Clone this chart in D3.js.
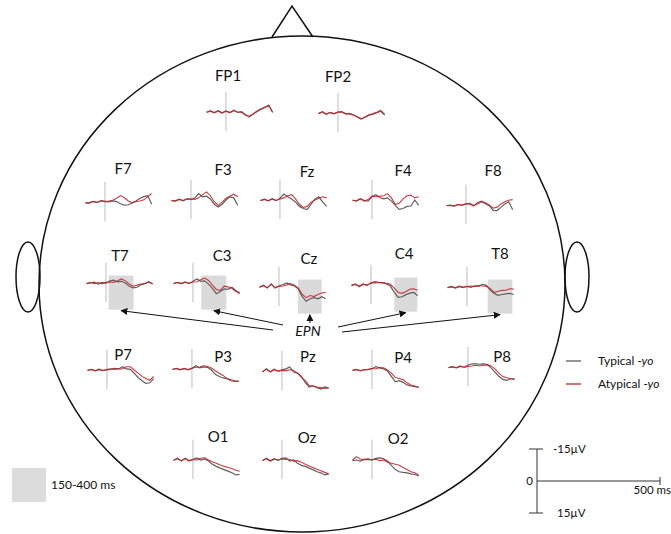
<!DOCTYPE html>
<html lang="en">
<head>
  <meta charset="UTF-8">
  <title>EPN topography</title>
  <style>
    html,
    body {
      margin: 0;
      padding: 0;
      background: #fff;
    }

    svg {
      display: block;
    }

    text {
      font-family: Lato, "Open Sans", sans-serif;
      fill: #111;
    }

    .head {
      fill: none;
      stroke: #111;
      stroke-width: 1.5;
    }
  </style>
</head>
<body>
  <svg class="chart"></svg>

  <script src="https://cdnjs.cloudflare.com/ajax/libs/d3/7.8.5/d3.min.js"></script>
  <script>
    /* data */
    const electrodes = ['FP1', 'FP2', 'F7', 'F3', 'Fz', 'F4', 'F8', 'T7', 'C3', 'Cz', 'C4', 'T8',
      'P7', 'P3', 'Pz', 'P4', 'P8', 'O1', 'Oz', 'O2'];
    const timesMs = [-200, -160, -120, -80, -40, 0, 40, 80, 120, 160, 200, 240, 280, 320, 360, 400, 440, 480];

    // µV, one row per electrode (same order as electrodes)
    const typicalYo = [
      [0, -0.5, 0.3, -0.6, 0.4, -0.5, 0.2, -0.8, 0.2, -0.2, 1.2, 2.4, 1.0, -0.2, -1.2, -2.0, -3.2, 0.2],
      [0.3, -0.5, 0.5, -0.3, 0.3, -0.4, -0.6, 0.4, 0.2, 0.8, 1.8, 2.7, 2.0, 1.0, 0.5, -0.2, -0.8, 1.0],
      [0.5, 0.3, -0.3, 0.2, -0.5, -0.3, 0.0, -0.5, -0.2, 0.8, 1.5, 1.3, 0.5, -0.5, -1.8, -2.5, -3.0, 1.0],
      [0.2, 0.5, -0.3, 0.4, -0.5, -0.2, -1.0, -3.0, -1.5, -1.8, -0.5, 2.0, 3.3, 2.0, 0.0, -1.5, -1.0, 2.5],
      [0.3, -0.3, 0.4, -0.5, 0.3, -0.8, -2.8, -1.5, -0.5, 1.0, 3.0, 4.0, 4.5, 2.0, -0.5, -1.5, 1.0, 3.0],
      [0.0, 0.5, -0.5, 0.2, 0.5, -1.5, -2.5, -1.2, -0.5, -1.0, 0.5, 2.5, 4.4, 4.0, 3.0, 2.8, 0.0, 2.5],
      [0.3, 0.0, 0.5, -0.3, 0.2, -0.5, -0.8, 0.2, -0.5, -1.5, -0.6, 0.3, 2.5, 2.6, 1.0, -0.5, -1.5, 2.2],
      [0.3, 0.0, -0.4, 0.5, -0.3, 0.2, -1.0, -1.3, -0.5, -0.8, 0.0, 1.5, 2.3, 2.0, 0.8, 0.3, -0.5, 0.5],
      [0.3, -0.3, 0.2, -0.5, 0.3, -0.8, -1.9, -0.8, -1.0, 0.5, 2.5, 5.0, 4.0, 2.8, 3.0, 2.0, 3.5, 5.0],
      [0.0, -0.8, 0.5, -1.5, 0.3, -0.5, -1.2, -1.9, -1.0, -0.5, 1.0, 4.5, 6.7, 5.5, 5.0, 5.5, 4.5, 5.5],
      [0.2, -0.5, 0.8, -0.3, 0.2, -1.0, -1.6, -1.2, -1.0, -0.5, 0.5, 3.5, 5.8, 5.5, 4.5, 3.8, 3.5, 5.0],
      [0.3, -0.3, 0.5, -0.2, 0.3, -0.3, 0.2, -0.5, -0.3, -1.2, -0.8, 1.5, 3.0, 3.9, 3.5, 3.2, 3.0, 3.5],
      [0.2, -0.3, 0.4, -0.2, 0.3, 0.0, -0.3, -0.8, -0.5, -1.5, -0.5, -0.3, 1.5, 3.5, 5.0, 6.3, 6.0, 4.0],
      [0.2, -0.3, 0.3, -0.2, 0.4, -0.2, -1.5, -0.5, -1.0, -0.8, 0.5, 2.5, 3.5, 4.2, 4.5, 5.5, 5.8, 5.8],
      [0.5, -1.0, 0.3, -0.8, 0.2, -0.5, -1.0, -1.9, 0.5, 1.0, 2.5, 5.5, 7.5, 7.0, 7.8, 8.5, 7.5, 8.0],
      [0.2, -0.2, 0.3, 0.0, -0.3, -0.5, -1.6, -1.0, -0.5, 0.5, 3.0, 5.5, 5.0, 5.8, 7.0, 7.5, 7.8, 8.0],
      [0.3, -0.2, 0.4, -0.3, 0.0, -0.8, -1.5, -1.5, -1.3, -1.5, -1.2, 0.5, 2.5, 4.5, 5.8, 6.3, 5.5, 5.5],
      [0.2, -0.8, 0.5, -0.8, 0.3, -0.3, -1.0, 0.0, -0.5, 0.5, 2.0, 3.0, 3.8, 4.5, 5.2, 6.0, 7.0, 6.8],
      [0.3, -0.8, 0.4, -0.6, 0.2, -0.8, -1.0, 0.5, 0.0, 1.5, 2.5, 3.0, 3.8, 4.5, 5.5, 6.0, 7.0, 6.5],
      [0.3, 0.0, 0.5, -0.3, -0.5, 0.0, -0.8, -1.0, -0.5, 0.5, 2.5, 4.5, 5.5, 5.8, 6.0, 6.5, 6.8, 7.5]
    ];
    const atypicalYo = [
      [0.2, -0.4, 0.4, -0.5, 0.5, -0.3, 0.4, -0.6, 0.0, 0.2, 1.5, 2.0, 0.8, -0.5, -1.5, -2.3, -3.0, 0.0],
      [0.2, -0.6, 0.6, -0.2, 0.4, -0.5, -0.4, 0.5, 0.4, 1.0, 2.0, 2.9, 1.8, 0.8, 0.3, -0.3, -1.2, 0.6],
      [0.3, 0.5, -0.2, 0.3, -0.7, -0.2, -0.4, -0.8, -1.8, -3.0, -2.0, -0.5, 0.3, -0.2, -0.5, -1.0, -2.5, -4.0],
      [0.3, 0.4, -0.4, 0.2, -0.6, -0.5, -0.3, -1.0, -2.5, -3.8, -2.0, 0.8, 2.5, 1.0, -0.8, -1.8, -2.7, -1.5],
      [0.2, -0.4, 0.3, -0.6, 0.2, -0.5, -1.0, -2.0, -2.5, -0.5, 2.0, 3.5, 3.0, 1.0, 0.0, -0.8, -1.5, -1.0],
      [0.2, 0.3, -0.6, 0.5, -0.2, -1.8, -1.5, -1.8, -2.0, -3.0, -1.0, 2.0, 1.5, -0.5, -2.0, -2.3, -1.0, -1.5],
      [0.2, 0.3, 0.4, -0.2, 0.0, -0.6, -0.4, 0.5, -1.2, -1.8, -1.0, 0.0, 1.5, 1.0, -0.5, -1.5, -2.2, -2.5],
      [0.2, -0.3, 0.3, -0.2, 0.4, -0.3, -0.5, -0.3, -1.0, -1.9, -1.0, 0.5, 1.5, 1.0, 0.5, 0.2, -0.5, 0.3],
      [0.2, -0.2, 0.4, -0.3, 0.1, -0.5, -0.6, -1.5, -2.3, -1.2, 1.0, 3.0, 3.5, 1.5, 1.8, 2.5, 4.0, 4.4],
      [0.2, -0.6, 0.3, -1.2, 0.5, -0.3, -0.5, -1.0, -1.6, -0.8, 0.5, 3.5, 5.0, 4.0, 4.5, 3.5, 2.8, 2.5],
      [0.3, -0.2, 0.5, -0.5, 0.0, -0.8, -1.0, -1.2, -1.1, -0.8, -0.3, 1.5, 3.5, 3.9, 3.0, 2.0, 1.8, 2.5],
      [0.2, 0.0, 0.3, -0.4, 0.0, -0.2, -0.5, -0.2, -0.8, -0.5, -0.3, 0.8, 2.5, 2.0, 1.6, 1.5, 0.8, 1.0],
      [0.1, -0.2, 0.3, -0.4, 0.2, -0.3, -0.6, -0.3, -0.6, -0.5, -1.5, -1.5, 0.0, 1.5, 3.0, 4.0, 4.8, 3.0],
      [0.1, -0.2, 0.4, -0.3, 0.2, -0.4, -0.8, -0.9, -1.5, -1.2, -0.5, 0.8, 2.0, 3.0, 4.5, 5.0, 5.5, 5.8],
      [0.3, -0.8, 0.5, -0.6, 0.0, -0.3, -0.2, -0.6, -0.2, 1.0, 3.0, 4.5, 6.8, 7.0, 7.5, 7.8, 8.2, 8.0],
      [0.1, -0.3, 0.4, -0.2, -0.1, -0.8, -0.5, -1.2, -1.0, 0.0, 1.5, 3.5, 4.0, 4.5, 6.0, 7.0, 7.5, 8.2],
      [0.2, 0.0, 0.3, -0.5, 0.2, -0.3, -0.5, -0.8, -0.5, -0.8, -1.0, -0.5, 1.0, 3.0, 4.5, 5.0, 5.5, 6.0],
      [0.0, -0.6, 0.3, -0.6, 0.5, -0.2, 0.0, -0.8, -1.0, 0.0, 0.8, 1.5, 2.3, 3.0, 3.5, 4.0, 4.8, 5.3],
      [0.2, -0.6, 0.5, -0.4, 0.0, -0.5, -0.3, -0.2, 0.5, 0.3, 1.0, 2.0, 2.8, 3.5, 4.3, 5.0, 5.8, 6.5],
      [0.0, -1.6, -0.5, -0.2, -0.3, -0.1, -0.4, 0.3, 0.0, 1.0, 1.5, 2.0, 2.5, 3.5, 4.5, 5.5, 6.0, 7.0]
    ];

    // EPN shaded windows (as drawn in the figure, ms)
    const epnElectrodes = ['T7', 'C3', 'Cz', 'C4', 'T8'];
    const epnStartMs = [27, 85, 195, 240, 213];
    const epnEndMs = [284, 343, 439, 476, 467];
    const seriesNames = ['Typical -yo', 'Atypical -yo'];
    /* data END */

    /* layout : onset line x, baseline y, label x, label baseline */
    const layout = {
      FP1: [226, 112, 228, 81], FP2: [338, 113, 338, 82],
      F7: [105, 202, 123, 174], F3: [191, 200, 223, 175], Fz: [280, 200, 307, 177],
      F4: [372, 200, 403, 176], F8: [466, 205, 493, 176],
      T7: [106, 283, 120, 261], C3: [193, 283, 222, 261], Cz: [279, 287, 309, 264],
      C4: [371, 285, 404, 259], T8: [467, 287, 500, 259],
      P7: [107, 370, 123, 360], P3: [192, 369, 223, 362], Pz: [282, 371, 308, 362],
      P4: [372, 370, 403, 363], P8: [468, 367, 502, 362],
      O1: [193, 460, 218, 442], Oz: [282, 460, 307, 443], O2: [372, 460, 398, 444]
    };
    const epnTails = [[273, 330], [283, 325], [310, 323], [338, 327], [342, 332]];
    const colors = ['#5e5e5e', '#c2272d'];

    let svgWidth = 671,
      svgHeight = 534,
      svg = d3.select('svg.chart').attr('width', svgWidth).attr('height', svgHeight);

    // panel scales (relative to onset line / baseline), negative up
    let xScale = d3.scaleLinear().domain([-200, 500]).range([-19.5, 48.6]);
    let yScale = d3.scaleLinear().domain([-15, 15]).range([-32, 32]);

    svg.append('defs').append('marker')
      .attr('id', 'arrow')
      .attr('viewBox', '0 0 10 10')
      .attr('refX', 9).attr('refY', 5)
      .attr('markerWidth', 7).attr('markerHeight', 7)
      .attr('orient', 'auto-start-reverse')
      .append('path')
      .attr('d', 'M0,0 L10,5 L0,10 z')
      .attr('fill', '#111');

    // 頭
    svg.append('ellipse').attr('class', 'head')
      .attr('cx', 302).attr('cy', 284).attr('rx', 263).attr('ry', 248);
    svg.append('path').attr('class', 'head')
      .attr('d', 'M272,37 L292,6 L313,37');
    svg.append('ellipse').attr('class', 'head')
      .attr('cx', 28).attr('cy', 277).attr('rx', 12).attr('ry', 35);
    svg.append('ellipse').attr('class', 'head')
      .attr('cx', 577).attr('cy', 277).attr('rx', 12).attr('ry', 35);

    // panels
    let panels = svg.append('g').selectAll('g')
      .data(electrodes)
      .enter()
      .append('g')
      .attr('transform', d => `translate(${layout[d][0]},${layout[d][1]})`);

    // EPN shading
    panels.filter(d => epnElectrodes.includes(d))
      .append('rect')
      .attr('x', d => xScale(epnStartMs[epnElectrodes.indexOf(d)]))
      .attr('width', d => xScale(epnEndMs[epnElectrodes.indexOf(d)]) - xScale(epnStartMs[epnElectrodes.indexOf(d)]))
      .attr('y', yScale(-3.5))
      .attr('height', yScale(12.5) - yScale(-3.5))
      .attr('fill', '#dadada');

    // onset line
    panels.append('line')
      .attr('x1', xScale(0)).attr('x2', xScale(0))
      .attr('y1', yScale(-9.5)).attr('y2', yScale(9))
      .attr('stroke', '#bdbdbd').attr('stroke-width', 1);

    let line = d3.line()
      .x((d, i) => xScale(timesMs[i]))
      .y(d => yScale(d))
      .curve(d3.curveLinear);

    panels.append('path')
      .attr('d', d => line(typicalYo[electrodes.indexOf(d)]))
      .attr('fill', 'none').attr('stroke', colors[0]).attr('stroke-width', 1.2);
    panels.append('path')
      .attr('d', d => line(atypicalYo[electrodes.indexOf(d)]))
      .attr('fill', 'none').attr('stroke', colors[1]).attr('stroke-width', 1.1)
      .attr('stroke-opacity', 0.9);

    // labels
    svg.append('g').selectAll('text')
      .data(electrodes)
      .enter()
      .append('text')
      .attr('x', d => layout[d][2])
      .attr('y', d => layout[d][3])
      .attr('text-anchor', 'middle')
      .attr('font-size', 15)
      .text(d => d);

    // EPN arrows
    svg.append('g').selectAll('line')
      .data(epnElectrodes)
      .enter()
      .append('line')
      .attr('x1', (d, i) => epnTails[i][0])
      .attr('y1', (d, i) => epnTails[i][1])
      .attr('x2', (d, i) => layout[d][0] + (xScale(epnStartMs[i]) + xScale(epnEndMs[i])) / 2)
      .attr('y2', d => layout[d][1] + yScale(12.5) + 1)
      .attr('stroke', '#111').attr('stroke-width', 1)
      .attr('marker-end', 'url(#arrow)');
    svg.append('text')
      .attr('x', 308).attr('y', 336)
      .attr('text-anchor', 'middle')
      .attr('font-size', 14).attr('font-style', 'italic')
      .text('EPN');

    // legend
    let legend = svg.append('g').selectAll('g')
      .data(seriesNames)
      .enter()
      .append('g')
      .attr('transform', (d, i) => `translate(566, ${361 + i * 23})`);
    legend.append('line')
      .attr('x1', 0).attr('x2', 15)
      .attr('stroke', (d, i) => colors[i]).attr('stroke-width', 1.3);
    legend.append('text')
      .attr('x', 32).attr('y', 4)
      .attr('font-size', 12)
      .each(function (d) {
        let parts = d.split(' ');
        d3.select(this).append('tspan').text(parts[0] + ' ');
        d3.select(this).append('tspan').attr('font-style', 'italic').text(parts[1]);
      });

    // 150-400 ms
    svg.append('rect')
      .attr('x', 12).attr('y', 468).attr('width', 34).attr('height', 34)
      .attr('fill', '#dcdcdc');
    svg.append('text')
      .attr('x', 51).attr('y', 489).attr('font-size', 12)
      .text('150-400 ms');

    // scale bar
    let barScale = d3.scaleLinear().domain([0, 500]).range([0, 123]);
    let bar = svg.append('g').attr('transform', 'translate(537,481)');
    bar.append('line')
      .attr('x1', 0).attr('x2', 0)
      .attr('y1', yScale(-15)).attr('y2', yScale(15))
      .attr('stroke', '#333');
    bar.selectAll('line.tick')
      .data([-15, 15])
      .enter()
      .append('line').attr('class', 'tick')
      .attr('x1', -8).attr('x2', 6)
      .attr('y1', d => yScale(d)).attr('y2', d => yScale(d))
      .attr('stroke', '#333');
    bar.append('line')
      .attr('x1', 0).attr('x2', barScale(500))
      .attr('stroke', '#333');
    bar.append('line')
      .attr('x1', barScale(500)).attr('x2', barScale(500))
      .attr('y1', -4).attr('y2', 4)
      .attr('stroke', '#333');
    bar.selectAll('text.amp')
      .data([-15, 15])
      .enter()
      .append('text').attr('class', 'amp')
      .attr('x', d => d < 0 ? 16 : 20)
      .attr('y', d => yScale(d) + 4)
      .attr('font-size', 11.5)
      .text(d => d + 'µV');
    bar.append('text')
      .attr('x', -4).attr('y', 4)
      .attr('text-anchor', 'end')
      .attr('font-size', 11.5)
      .text('0');
    bar.append('text')
      .attr('x', barScale(500) + 11).attr('y', 13)
      .attr('text-anchor', 'end')
      .attr('font-size', 11.5)
      .text('500 ms');
  </script>
</body>
</html>
